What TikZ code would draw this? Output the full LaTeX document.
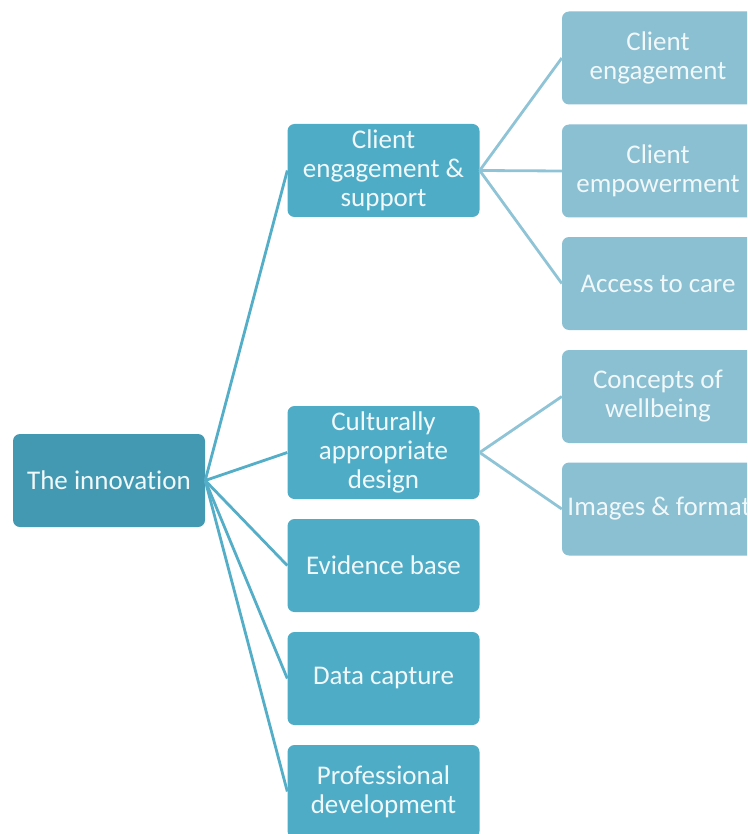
\documentclass[tikz,border=0pt]{standalone}
\usepackage{fontspec}
\setmainfont{Carlito}[Ligatures=NoCommon]
\definecolor{rootc}{HTML}{4399B2}
\definecolor{midc}{HTML}{4FACC7}
\definecolor{leafc}{HTML}{8BBFD2}
\definecolor{linea}{HTML}{55AEC8}
\definecolor{lineb}{HTML}{8FC3D6}
\definecolor{txt}{HTML}{F0F8FA}
\begin{document}
\begin{tikzpicture}[x=1pt,y=-1pt,
  box/.style={rounded corners=7pt, minimum width=192pt, minimum height=93pt,
    align=center, text=txt, inner sep=0pt,
    font=\fontsize{27}{29}\selectfont},
  rootbox/.style={box, fill=rootc},
  midbox/.style={box, fill=midc},
  leafbox/.style={box, fill=leafc},
  conna/.style={draw=linea, line width=2.8pt},
  connb/.style={draw=lineb, line width=2.8pt}]
\useasboundingbox (0,0) rectangle (747,834);
\clip (0,0) rectangle (747,834);
\node[rootbox] (root) at (109,480.5) {The innovation};
\node[midbox] (m1) at (383.5,170.5) {Client\\engagement \&\\support};
\node[midbox] (m2) at (383.5,452.5) {Culturally\\appropriate\\design};
\node[midbox] (m3) at (383.5,565.5) {Evidence base};
\node[midbox] (m4) at (383.5,678.5) {Data capture};
\node[midbox] (m5) at (383.5,791.5) {Professional\\development};
\node[leafbox] (l1) at (658,58) {Client\\engagement};
\node[leafbox] (l2) at (658,171) {Client\\empowerment};
\node[leafbox] (l3) at (658,283.5) {Access to care};
\node[leafbox] (l4) at (658,396.5) {Concepts of\\wellbeing};
\node[leafbox] (l5) at (658,509) {\makebox[0pt]{\hspace{2pt}Images \& format}};
\foreach \m in {m1,m2,m3,m4,m5}
  \draw[conna] (root.east) -- (\m.west);
\foreach \l in {l1,l2,l3}
  \draw[connb] (m1.east) -- (\l.west);
\foreach \l in {l4,l5}
  \draw[connb] (m2.east) -- (\l.west);
\end{tikzpicture}
\end{document}
